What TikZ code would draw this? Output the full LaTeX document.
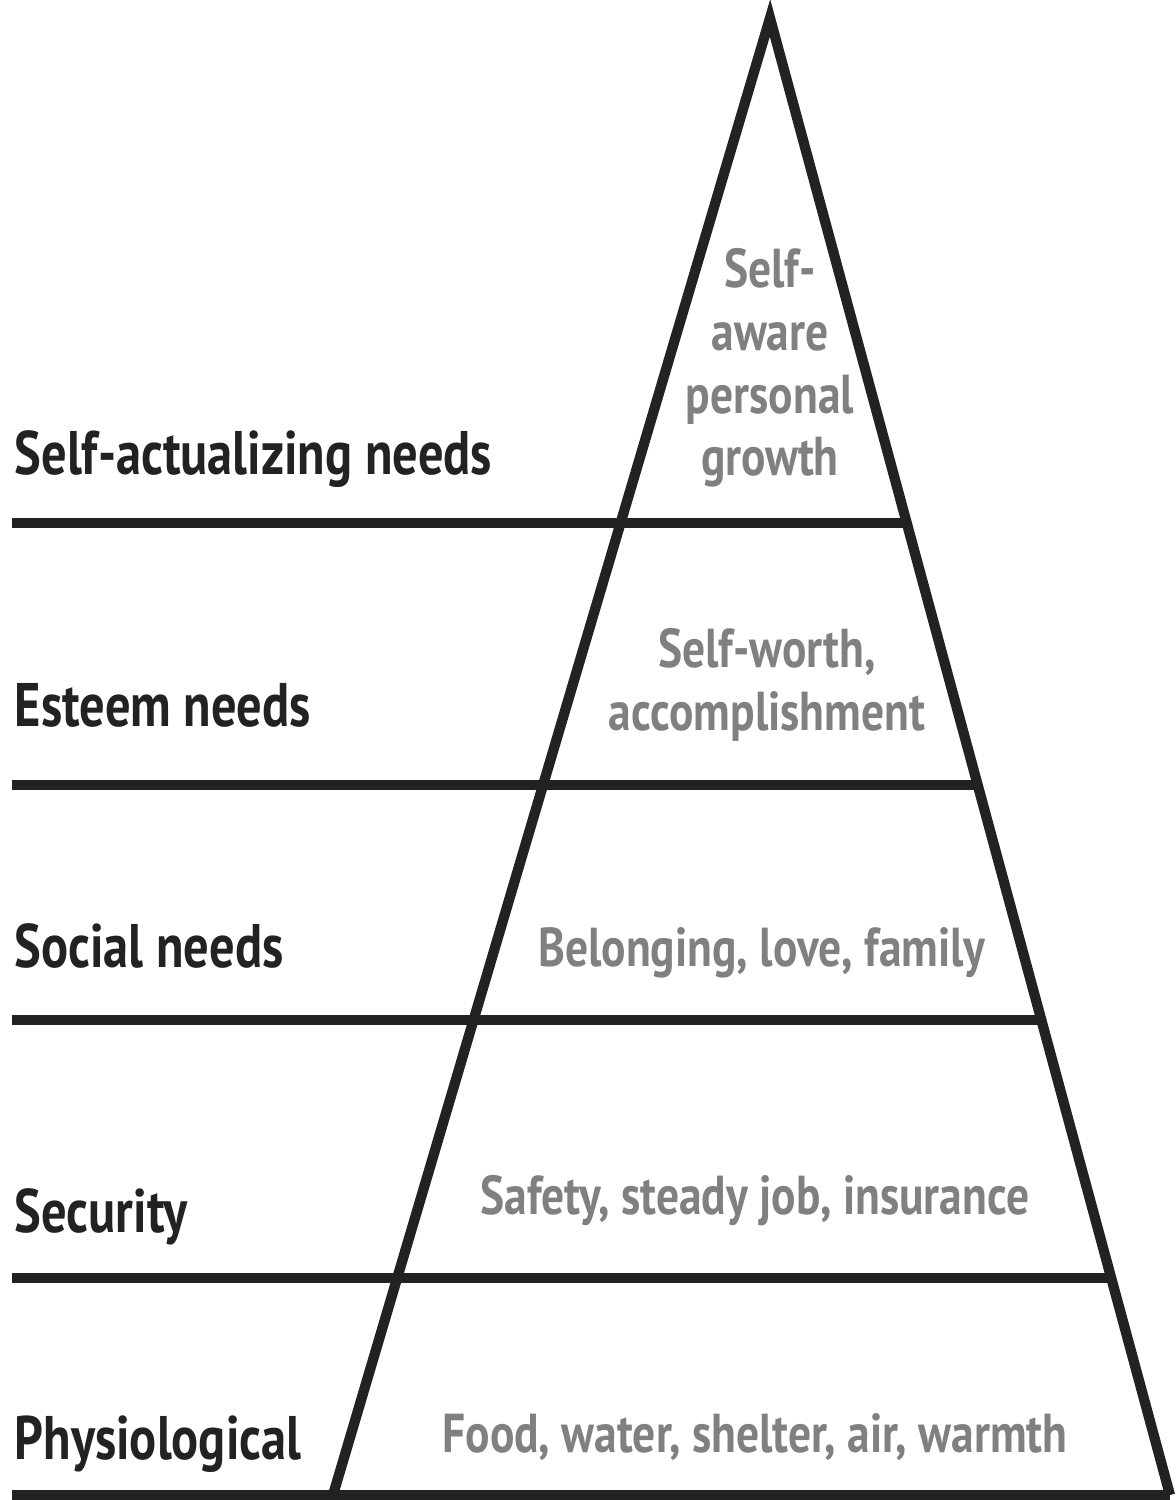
\documentclass[tikz,border=0pt]{standalone}
\usepackage{fontspec}
\setmainfont{PT Sans}[FakeStretch=0.82]
\newfontfamily\wantfont{PT Sans}[FakeStretch=0.83]
\usepackage{tikz}
\usetikzlibrary{calc}
\definecolor{inkdark}{HTML}{222222}
\definecolor{inkgray}{HTML}{808080}
\tikzstyle{level} = [draw=inkdark, line width=2.9pt]
\tikzstyle{need} = [anchor=base west, inner sep=0pt, text=inkdark, font=\fontsize{17.5}{20}\selectfont\bfseries]
\tikzstyle{want} = [inner sep=0pt, align=center, text=inkgray, font=\wantfont\fontsize{15.6}{17.8}\selectfont\bfseries]

\begin{document}
\begin{tikzpicture}
	\useasboundingbox (0,0) rectangle (11.76,15);
	
	% ------------------- Pyramid ------------------- %
	\coordinate (apex) at (7.70,14.82);
	\coordinate (bl) at (3.33,0.05);
	\coordinate (br) at (11.70,0.05);
	\draw[level, line join=miter] (bl) -- (apex) -- (br);
	
	% ------------------- Horizontal lines ------------------- %
	\foreach \t/\y [count=\i] in {0.342/9.77, 0.519/7.15, 0.678/4.80, 0.853/2.22} {
		\coordinate (l\i) at (0.12,\y);
		\coordinate (r\i) at ($(apex)!\t!(br)$);
		\draw[level] (l\i) -- (l\i -| r\i);
	}
	\coordinate (l0) at (0.12,0.05);
	\draw[level] (l0) -- (br);
	
	% ------------------- Left labels ------------------- %
	\node[need] (selfact) at (0.14,10.25) {Self-actualizing needs};
	\node[need] (esteem) at (0.14,7.73) {Esteem needs};
	\node[need] (social) at (0.14,5.32) {Social needs};
	\node[need] (security) at (0.14,2.67) {Security};
	\node[need] (physio) at (0.14,0.40) {Physiological};
	
	% ------------------- Text inside pyramid ------------------- %
	\node[want] (growth) at (7.70,11.32) {Self-\\aware\\personal\\growth};
	\node[want] (worth) at (7.67,8.15) {Self-worth,\\accomplishment};
	\node[want, anchor=base] (love) at (7.62,5.33) {Belonging, love, family};
	\node[want, anchor=base] (safety) at (7.55,2.85) {Safety, steady job, insurance};
	\node[want, anchor=base] (food) at (7.55,0.48) {Food, water, shelter, air, warmth};
	
\end{tikzpicture}
\end{document}
